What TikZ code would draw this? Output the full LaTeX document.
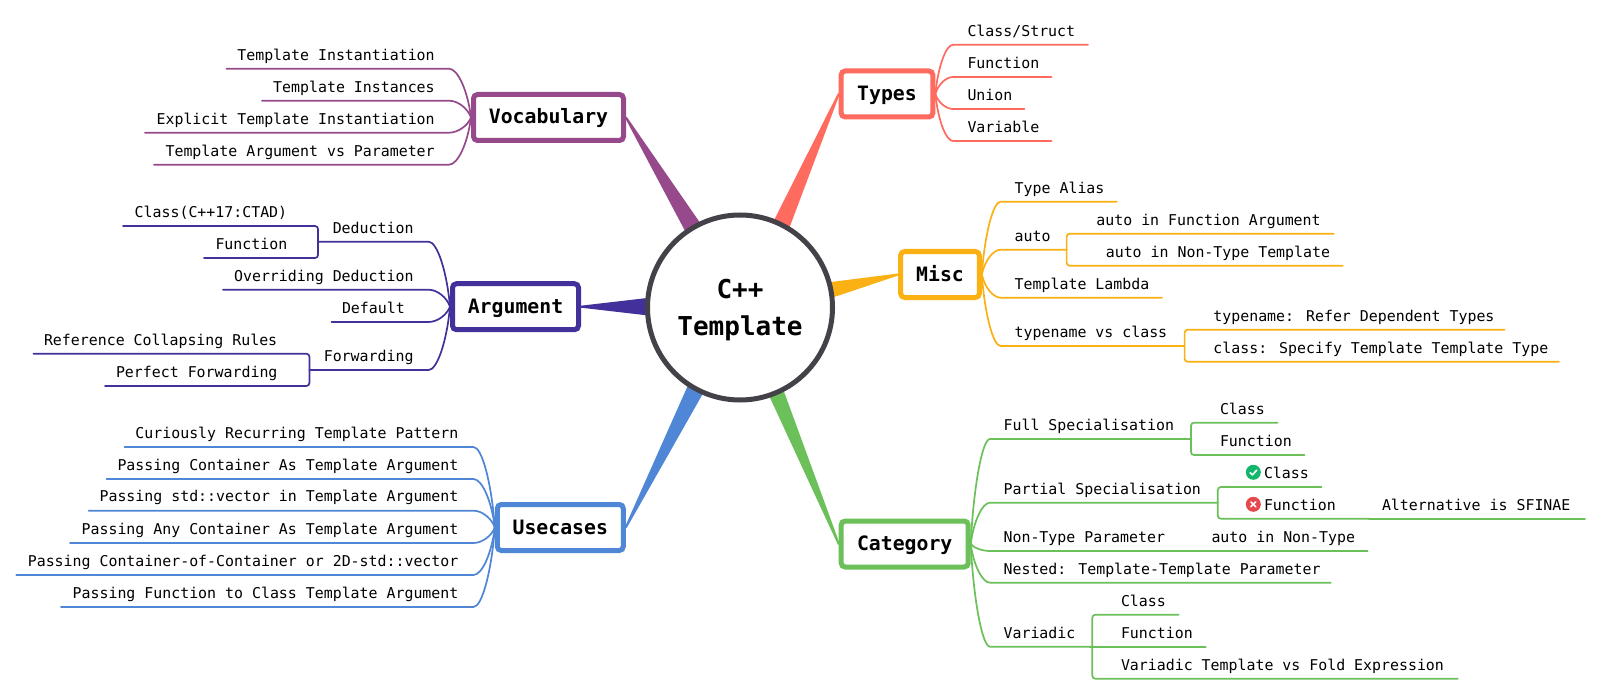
\documentclass[tikz,border=0pt]{standalone}
\usepackage{fontspec}
\newfontfamily\mmfont{DejaVu Sans Mono}
\usetikzlibrary{calc,backgrounds}
\definecolor{colv}{HTML}{964A8B}
\definecolor{cola}{HTML}{43309A}
\definecolor{colt}{HTML}{FF6B5F}
\definecolor{colm}{HTML}{FBB014}
\definecolor{colu}{HTML}{4F86D6}
\definecolor{colc}{HTML}{6CC05A}
\definecolor{colr}{HTML}{444148}
\definecolor{colok}{HTML}{13B76C}
\definecolor{colno}{HTML}{E5484D}
\tikzset{
  conn/.style={line width=1.7pt,line cap=round},
  mainbox/.style={rectangle,rounded corners=4pt,line width=5pt,fill=white,inner sep=0pt,text=black,
    text height=17pt,text depth=4pt,font=\mmfont\bfseries\fontsize{19.8}{24}\selectfont},
  itembox/.style={rectangle,inner sep=0pt,outer sep=0pt,anchor=south west,minimum height=24pt,
    text height=11pt,text depth=4pt,text=black,font=\mmfont\fontsize{14.9}{18}\selectfont},
  rootnode/.style={circle,draw=colr,line width=5pt,fill=white,minimum size=185pt,inner sep=0pt,align=center,
    font=\mmfont\bfseries\fontsize{26}{37}\selectfont},
  iconnode/.style={circle,inner sep=0pt,minimum size=15pt,outer sep=0pt},
  iconmark/.style={draw=white,line width=1.6pt,line cap=round,line join=round}
}
% left-aligned text: name, xl, xr, yline, text-left, text
\newcommand\ril[6]{\pgfmathsetlengthmacro\itw{#3pt-#2pt}\pgfmathsetlengthmacro\ito{#5pt-#2pt}%
  \node[itembox] (#1) at (#2,#4) {\hbox to \itw{\hspace*{\ito}#6\hss}};}
% right-aligned text: name, xl, xr, yline, text-right, text
\newcommand\rir[6]{\pgfmathsetlengthmacro\itw{#3pt-#2pt}\pgfmathsetlengthmacro\ito{#3pt-#5pt}%
  \node[itembox] (#1) at (#2,#4) {\hbox to \itw{\hss#6\hspace*{\ito}}};}
% branch curves from a main node to an item
\newcommand\brR[2]{\draw[conn,draw=\bc] let \p1=(#1.east),\p2=(#2.south west),\n1={\x2-\x1},\n2={\y2-\y1} in
  (\p1) .. controls ({\x1+0.15*\n1},{\y1+0.55*\n2}) and ({\x2-0.4*\n1},{\y2}) .. (\p2) -- (#2.south east);}
\newcommand\brL[2]{\draw[conn,draw=\bc] let \p1=(#1.west),\p2=(#2.south east),\n1={\x2-\x1},\n2={\y2-\y1} in
  (\p1) .. controls ({\x1+0.15*\n1},{\y1+0.55*\n2}) and ({\x2-0.4*\n1},{\y2}) .. (\p2) -- (#2.south west);}
% bracket from an item's line end to a child item
\newcommand\subR[2]{\draw[conn,draw=\bc,rounded corners=3pt] (#1.south east) -- (#2.south west) -- (#2.south east);}
\newcommand\subL[2]{\draw[conn,draw=\bc,rounded corners=3pt] (#1.south west) -- (#2.south east) -- (#2.south west);}
% tapered trunk: colour, root angle a, root angle b, target anchor
\newcommand\trunk[4]{\path[fill=#1,draw=#1,line width=2pt,line join=round]
  (root.#2) .. controls ($(root.#2)!.12!(root.#3)!.5!(#4)$) .. (#4)
  .. controls ($(root.#2)!.88!(root.#3)!.5!(#4)$) .. (root.#3) -- cycle;}
\begin{document}
\begin{tikzpicture}[x=1pt,y=-1pt]
\useasboundingbox (0,0) rectangle (1601,695);

\node[rootnode] (root) at (740,307.5) {\rule{0pt}{25pt}C++\\Template};

\node[mainbox,draw=colv,minimum width=150pt,minimum height=46pt] (vocab) at (548.5,117.5) {Vocabulary};
\node[mainbox,draw=cola,minimum width=126pt,minimum height=46pt] (arg) at (515.5,306.7) {Argument};
\node[mainbox,draw=colu,minimum width=126pt,minimum height=46pt] (use) at (560.3,527.5) {Usecases};
\node[mainbox,draw=colt,minimum width=91.7pt,minimum height=46pt] (types) at (887,94) {Types};
\node[mainbox,draw=colm,minimum width=78.7pt,minimum height=46pt] (misc) at (940,274.5) {Misc};
\node[mainbox,draw=colc,minimum width=127pt,minimum height=46pt] (cat) at (904.7,544) {Category};

\begin{pgfonlayer}{background}
\fill[white] (0,0) rectangle (1601,695);
\trunk{colv}{125.5}{116.7}{vocab.east}
\trunk{colt}{68.5}{59.6}{types.west}
\trunk{colm}{15.4}{7.4}{misc.west}
\trunk{cola}{175}{184}{arg.east}
\trunk{colu}{237.7}{246.6}{use.east}
\trunk{colc}{289.3}{297.2}{cat.west}
\end{pgfonlayer}

% Vocabulary
\def\bc{colv}
\rir{v1}{226.5}{449}{68.7}{434.7}{Template Instantiation}
\rir{v2}{262}{449}{100.7}{434.7}{Template Instances}
\rir{v3}{145}{449}{132.7}{434.7}{Explicit Template Instantiation}
\rir{v4}{154}{449}{164.7}{434.7}{Template Argument vs Parameter}
\brL{vocab}{v1}\brL{vocab}{v2}\brL{vocab}{v3}\brL{vocab}{v4}

% Argument
\def\bc{cola}
\rir{a1}{318}{428.6}{241.7}{413.5}{Deduction}
\rir{a2}{223}{428.6}{289.7}{413.5}{Overriding Deduction}
\ril{a3}{331.4}{428.6}{322}{342}{Default}
\rir{a4}{309.4}{428.6}{370}{413.5}{Forwarding}
\brL{arg}{a1}\brL{arg}{a2}\brL{arg}{a3}\brL{arg}{a4}
\ril{a11}{123}{318}{226}{134.7}{Class(C++17:CTAD)}
\ril{a12}{204}{318}{258}{215.5}{Function}
\subL{a1}{a11}\subL{a1}{a12}
\ril{a41}{33.5}{309.4}{353.7}{44}{Reference Collapsing Rules}
\ril{a42}{105}{309.4}{386}{116}{Perfect Forwarding}
\subL{a4}{a41}\subL{a4}{a42}

% Usecases
\def\bc{colu}
\tikzset{itembox/.append style={minimum height=25pt}}
\rir{u1}{124.5}{473.5}{447}{458.4}{Curiously Recurring Template Pattern}
\rir{u2}{106.5}{473.5}{479}{458.4}{Passing Container As Template Argument}
\rir{u3}{88.6}{473.5}{510.7}{458.4}{Passing std::vector in Template Argument}
\rir{u4}{70}{473.5}{543}{458.4}{Passing Any Container As Template Argument}
\rir{u5}{16.3}{473.5}{575}{458.4}{Passing Container-of-Container or 2D-std::vector}
\rir{u6}{61}{473.5}{607}{458.4}{Passing Function to Class Template Argument}
\brL{use}{u1}\brL{use}{u2}\brL{use}{u3}\brL{use}{u4}\brL{use}{u5}\brL{use}{u6}
\tikzset{itembox/.append style={minimum height=24pt}}

% Types
\def\bc{colt}
\ril{t1}{953}{1088}{44.7}{967.5}{Class/Struct}
\ril{t2}{953}{1051.5}{77}{967.5}{Function}
\ril{t3}{953}{1024.6}{109}{967.5}{Union}
\ril{t4}{953}{1051.5}{141}{967.5}{Variable}
\brR{types}{t1}\brR{types}{t2}\brR{types}{t3}\brR{types}{t4}

% Misc
\def\bc{colm}
\ril{m1}{1000.6}{1116.7}{201.7}{1014.7}{Type Alias}
\ril{m2}{1000.6}{1066.6}{249.7}{1014.7}{auto}
\ril{m3}{1000.6}{1162}{297.7}{1014.7}{Template Lambda}
\ril{m4}{1000.6}{1184.6}{346}{1014.7}{typename vs class}
\brR{misc}{m1}\brR{misc}{m2}\brR{misc}{m3}\brR{misc}{m4}
\ril{m21}{1066.6}{1333.7}{233.7}{1096.4}{auto in Function Argument}
\ril{m22}{1066.6}{1342.7}{265.7}{1105.8}{auto in Non-Type Template}
\subR{m2}{m21}\subR{m2}{m22}
\ril{m41}{1184.6}{1504.6}{329.7}{1213.4}{typename: Refer Dependent Types}
\ril{m42}{1184.6}{1559}{361.7}{1213.4}{class: Specify Template Template Type}
\subR{m4}{m41}\subR{m4}{m42}

% Category
\def\bc{colc}
\ril{c1}{990}{1191}{439}{1003.6}{Full Specialisation}
\ril{c2}{990}{1217.8}{502.7}{1003.6}{Partial Specialisation}
\ril{c3}{990}{1198}{551}{1003.6}{Non-Type Parameter}
\ril{c4}{990}{1330.8}{582.7}{1003.6}{Nested: Template-Template Parameter}
\ril{c5}{990}{1092.3}{646.7}{1003.6}{Variadic}
\brR{cat}{c1}\brR{cat}{c2}\brR{cat}{c3}\brR{cat}{c4}\brR{cat}{c5}
\ril{c11}{1191}{1277.5}{422.7}{1220}{Class}
\ril{c12}{1191}{1304.6}{455}{1220}{Function}
\subR{c1}{c11}\subR{c1}{c12}
\ril{c21}{1217.8}{1321.6}{487}{1264}{Class}
\ril{c22}{1217.8}{1369}{518.7}{1264}{Function}
\subR{c2}{c21}\subR{c2}{c22}
\ril{c221}{1369}{1585}{518.7}{1382}{Alternative is SFINAE}
\draw[conn,draw=\bc] (c22.south east) -- (c221.south east);
\ril{c31}{1198}{1367.6}{551}{1211.5}{auto in Non-Type}
\draw[conn,draw=\bc] (c3.south east) -- (c31.south east);
\ril{c51}{1092.3}{1178.6}{614.7}{1121}{Class}
\ril{c52}{1092.3}{1205.7}{646.7}{1121}{Function}
\ril{c53}{1092.3}{1457.8}{678.7}{1121}{Variadic Template vs Fold Expression}
\subR{c5}{c51}\subR{c5}{c52}\subR{c5}{c53}

% icons
\node[iconnode,fill=colok] (okicon) at (1253.3,472.3) {};
\draw[iconmark] ($(okicon)+(-3.2,0.3)$) -- ($(okicon)+(-0.8,2.6)$) -- ($(okicon)+(3.4,-2.2)$);
\node[iconnode,fill=colno] (noicon) at (1253.3,504.3) {};
\draw[iconmark] ($(noicon)+(-2.4,-2.4)$) -- ($(noicon)+(2.4,2.4)$);
\draw[iconmark] ($(noicon)+(-2.4,2.4)$) -- ($(noicon)+(2.4,-2.4)$);
\end{tikzpicture}
\end{document}
